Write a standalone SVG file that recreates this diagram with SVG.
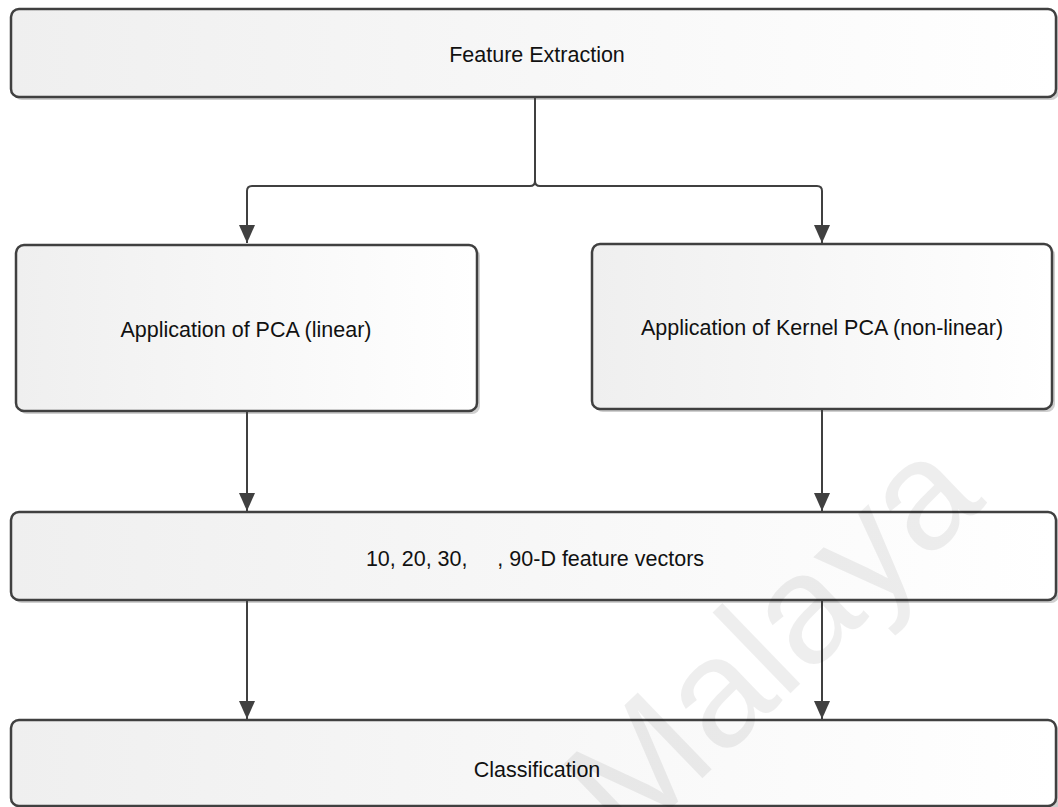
<svg xmlns="http://www.w3.org/2000/svg" width="1058" height="807" viewBox="0 0 1058 807">
  <defs>
    <linearGradient id="boxFill" x1="0" y1="0" x2="1" y2="0">
      <stop offset="0" stop-color="#efefef"/>
      <stop offset="1" stop-color="#ffffff"/>
    </linearGradient>
    <marker id="arrow" viewBox="0 0 18 16" refX="18" refY="8" markerWidth="18" markerHeight="16" markerUnits="userSpaceOnUse" orient="auto">
      <path d="M0,0 L18,8 L0,16 Z" fill="#404040"/>
    </marker>
  </defs>
  <style>
    .shadow { fill: #cfcfcf; }
    .box { fill: url(#boxFill); stroke: #404040; stroke-width: 2.5; }
    .label { font-family: "Liberation Sans", Arial, sans-serif; font-size: 21.5px; fill: #111; text-anchor: middle; }
    .link { fill: none; stroke: #404040; stroke-width: 2; }
    .mark { font-family: "Liberation Sans", Arial, sans-serif; font-size: 155px; fill: #000; fill-opacity: 0.065; }
  </style>
  <rect width="1058" height="807" fill="#ffffff"/>

  <g id="feature-extraction">
    <rect class="shadow" x="14" y="12" width="1045" height="88" rx="8"/>
    <rect class="box" x="11" y="9" width="1045" height="88" rx="8"/>
    <text class="label" x="537" y="62">Feature Extraction</text>
  </g>

  <g id="pca-linear">
    <rect class="shadow" x="19" y="248" width="461" height="166" rx="8"/>
    <rect class="box" x="16" y="245" width="461" height="166" rx="8"/>
    <text class="label" x="246" y="337">Application of PCA (linear)</text>
  </g>

  <g id="kernel-pca">
    <rect class="shadow" x="595" y="247" width="460" height="165" rx="8"/>
    <rect class="box" x="592" y="244" width="460" height="165" rx="8"/>
    <text class="label" x="822" y="335">Application of Kernel PCA (non-linear)</text>
  </g>

  <g id="feature-vectors">
    <rect class="shadow" x="14" y="515" width="1045" height="88" rx="8"/>
    <rect class="box" x="11" y="512" width="1045" height="88" rx="8"/>
    <text class="label" x="535" y="566" xml:space="preserve">10, 20, 30,     , 90-D feature vectors</text>
  </g>

  <g id="classification">
    <rect class="shadow" x="14" y="723" width="1045" height="88" rx="8"/>
    <rect class="box" x="11" y="720" width="1045" height="86" rx="8"/>
    <text class="label" x="537" y="777">Classification</text>
  </g>

  <g id="connectors">
    <path class="link" d="M535,98 V181 Q535,186 530,186 H252 Q247,186 247,191 V243" marker-end="url(#arrow)"/>
    <path class="link" d="M535,98 V181 Q535,186 540,186 H817 Q822,186 822,191 V243" marker-end="url(#arrow)"/>
    <path class="link" d="M247,412 V511" marker-end="url(#arrow)"/>
    <path class="link" d="M822,410 V511" marker-end="url(#arrow)"/>
    <path class="link" d="M247,601 V719" marker-end="url(#arrow)"/>
    <path class="link" d="M822,601 V719" marker-end="url(#arrow)"/>
  </g>

  <text class="mark" transform="translate(628,850) rotate(-44)">Malaya</text>
</svg>
